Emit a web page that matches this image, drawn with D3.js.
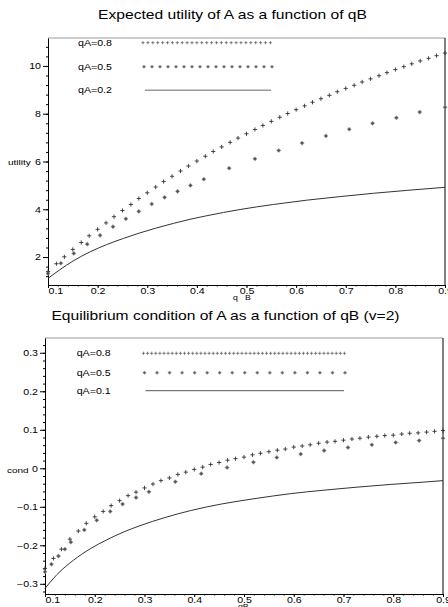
<!DOCTYPE html>
<meta charset="utf-8">
<style>
body { margin: 0; background: #fff; }
svg { display: block; font-family: "Liberation Sans", Arial, sans-serif; }
.axis .domain { stroke: #000; }
.axis line { stroke: #000; }
.axis text { font-size: 8.5px; fill: #000; font-family: "Liberation Sans", Arial, sans-serif; }
</style>
<svg width="448" height="607"></svg>
<script src="https://d3js.org/d3.v7.min.js"></script>
<script>

// ---- values ----
// upper chart: expected utility of A against qB
var qB_u08 = [0.100, 0.117, 0.133, 0.150, 0.167, 0.183, 0.200, 0.217, 0.233, 0.250,
              0.267, 0.283, 0.300, 0.317, 0.333, 0.350, 0.367, 0.383, 0.400, 0.417,
              0.433, 0.450, 0.467, 0.483, 0.500, 0.517, 0.533, 0.550, 0.567, 0.583,
              0.600, 0.617, 0.633, 0.650, 0.667, 0.683, 0.700, 0.717, 0.733, 0.750,
              0.767, 0.783, 0.800, 0.817, 0.833, 0.850, 0.867, 0.883, 0.900];
var utility08 = [1.39, 1.72, 2.01, 2.32, 2.61, 2.89, 3.16, 3.43, 3.69, 3.95,
                 4.20, 4.45, 4.69, 4.93, 5.16, 5.38, 5.60, 5.81, 6.02, 6.22,
                 6.42, 6.61, 6.80, 6.98, 7.16, 7.34, 7.51, 7.68, 7.85, 8.01,
                 8.17, 8.33, 8.48, 8.63, 8.77, 8.92, 9.06, 9.19, 9.33, 9.46,
                 9.59, 9.72, 9.85, 9.97, 10.09, 10.21, 10.32, 10.43, 10.54];

var qB_u05 = [0.100, 0.126, 0.152, 0.179, 0.205, 0.231, 0.257, 0.283, 0.309, 0.335,
              0.361, 0.387, 0.414, 0.465, 0.517, 0.565, 0.612, 0.660, 0.707, 0.754,
              0.802, 0.849, 0.900];
var utility05 = [1.31, 1.74, 2.15, 2.54, 2.91, 3.27, 3.60, 3.91, 4.22, 4.50,
                 4.75, 5.00, 5.26, 5.72, 6.11, 6.46, 6.77, 7.07, 7.35, 7.60,
                 7.83, 8.07, 8.27];

var qB_u02 = [0.100, 0.124, 0.151, 0.185, 0.218, 0.252, 0.285, 0.319, 0.353, 0.386,
              0.420, 0.487, 0.554, 0.621, 0.688, 0.756, 0.823, 0.900];
var utility02 = [1.11, 1.47, 1.84, 2.22, 2.52, 2.78, 3.01, 3.22, 3.41, 3.58,
                 3.73, 3.99, 4.20, 4.38, 4.53, 4.67, 4.79, 4.92];

// lower chart: equilibrium condition of A against qB (v=2)
var qB_c08 = [0.100, 0.117, 0.133, 0.150, 0.167, 0.183, 0.200, 0.217, 0.233, 0.250,
              0.267, 0.283, 0.300, 0.317, 0.333, 0.350, 0.367, 0.383, 0.400, 0.417,
              0.433, 0.450, 0.467, 0.483, 0.500, 0.517, 0.533, 0.550, 0.567, 0.583,
              0.600, 0.617, 0.633, 0.650, 0.667, 0.683, 0.700, 0.717, 0.733, 0.750,
              0.767, 0.783, 0.800, 0.817, 0.833, 0.850, 0.867, 0.883, 0.900];
var cond08 = [-0.260, -0.234, -0.210, -0.184, -0.163, -0.143, -0.126, -0.112, -0.097, -0.084,
              -0.071, -0.062, -0.051, -0.041, -0.032, -0.025, -0.016, -0.010, -0.003, 0.003,
              0.010, 0.015, 0.021, 0.025, 0.029, 0.035, 0.039, 0.043, 0.047, 0.050,
              0.055, 0.058, 0.061, 0.065, 0.068, 0.070, 0.073, 0.076, 0.078, 0.081,
              0.083, 0.085, 0.086, 0.089, 0.091, 0.092, 0.094, 0.096, 0.098];

var qB_c05 = [0.100, 0.113, 0.127, 0.140, 0.152, 0.179, 0.204, 0.231, 0.256, 0.283,
              0.309, 0.362, 0.414, 0.466, 0.519, 0.566, 0.614, 0.661, 0.709, 0.757,
              0.805, 0.852, 0.900];
var cond05 = [-0.269, -0.249, -0.228, -0.210, -0.192, -0.160, -0.135, -0.112, -0.093, -0.076,
              -0.061, -0.035, -0.014, 0.002, 0.016, 0.028, 0.037, 0.046, 0.054, 0.061,
              0.067, 0.072, 0.078];

var qB_c01 = [0.100, 0.124, 0.157, 0.191, 0.224, 0.257, 0.291, 0.341, 0.392, 0.458,
              0.526, 0.593, 0.659, 0.727, 0.794, 0.860, 0.900];
var cond01 = [-0.312, -0.276, -0.239, -0.209, -0.186, -0.166, -0.149, -0.128, -0.110, -0.092,
              -0.078, -0.066, -0.057, -0.049, -0.042, -0.036, -0.032];

// ticks
var qBTicks = [0.1, 0.2, 0.3, 0.4, 0.5, 0.6, 0.7, 0.8, 0.9];
var utilityTicks = [2, 4, 6, 8, 10];
var condTicks = [-0.3, -0.2, -0.1, 0, 0.1, 0.2, 0.3];

var legendUtility = ["qA=0.8", "qA=0.5", "qA=0.2"];
var legendCond = ["qA=0.8", "qA=0.5", "qA=0.1"];

var svg = d3.select("svg");
var SX = 1.25;   // the original text is drawn a bit wide

var plusPath = "M-2.1,0H2.1M0,-2.1V2.1";
var diamondPath = "M0,-2.1L2.1,0L0,2.1L-2.1,0Z";

function stretch(sel) {
  sel.each(function() {
    var t = d3.select(this),
        tx = +t.attr("x") || 0,
        ty = +t.attr("y") || 0;
    t.attr("x", null).attr("y", null)
      .attr("transform", "translate(" + tx + "," + ty + ") scale(" + SX + ",1)");
  });
}

function label(x, y, txt, size, anchor) {
  return svg.append("text")
      .attr("transform", "translate(" + x + "," + y + ") scale(" + SX + ",1)")
      .attr("font-size", size)
      .attr("text-anchor", anchor || "start")
      .attr("fill", "#000")
      .text(txt);
}

function panel(p) {
  var x = d3.scaleLinear().domain([0.1, 0.9]).range([p.left, p.right]);
  var y = d3.scaleLinear().domain(p.yDomain).range([p.bottom, p.top]);

  var g = svg.append("g");

  // frame
  g.append("line").attr("x1", p.left).attr("x2", p.right).attr("y1", p.top).attr("y2", p.top)
      .attr("stroke", "#999").attr("stroke-width", 1);
  g.append("line").attr("x1", p.right).attr("x2", p.right).attr("y1", p.top).attr("y2", p.bottom)
      .attr("stroke", "#000").attr("stroke-width", 1);

  // minor ticks
  g.append("g")
      .attr("class", "axis")
      .attr("transform", "translate(0," + p.bottom + ")")
      .call(d3.axisBottom(x).tickValues(d3.range(0.1, 0.901, 0.02)).tickSize(1.5).tickFormat(""))
      .select(".domain").remove();
  g.append("g")
      .attr("class", "axis")
      .attr("transform", "translate(" + p.left + ",0)")
      .call(d3.axisLeft(y).tickValues(p.yMinor).tickSize(2).tickFormat(""))
      .select(".domain").remove();

  // major x axis
  var xa = g.append("g")
      .attr("class", "axis")
      .attr("transform", "translate(0," + p.bottom + ")")
      .call(d3.axisBottom(x).tickValues(qBTicks).tickSize(3).tickSizeOuter(0).tickPadding(-0.5)
              .tickFormat(d3.format(".1f")));
  xa.selectAll("text").call(stretch);
  xa.select(".tick text").attr("text-anchor", "start");

  // major y axis
  var ya = g.append("g")
      .attr("class", "axis")
      .attr("transform", "translate(" + p.left + ",0)")
      .call(d3.axisLeft(y).tickValues(p.yTicks).tickSize(5).tickSizeOuter(0).tickPadding(2)
              .tickFormat(p.yFormat));
  ya.selectAll("text").call(stretch);

  // series
  var plot = g.append("g");

  plot.append("path")
      .datum(d3.zip(p.lineX, p.lineY))
      .attr("fill", "none")
      .attr("stroke", "#333")
      .attr("stroke-width", 1)
      .attr("d", d3.line()
          .x(function(d) { return x(d[0]); })
          .y(function(d) { return y(d[1]); })
          .curve(d3.curveMonotoneX));

  plot.selectAll(".dia")
    .data(d3.zip(p.diaX, p.diaY))
    .enter().append("path")
      .attr("class", "dia")
      .attr("transform", function(d) { return "translate(" + x(d[0]) + "," + y(d[1]) + ")"; })
      .attr("d", diamondPath)
      .attr("fill", "#555")
      .attr("stroke", "#aaa")
      .attr("stroke-width", 0.6);

  plot.selectAll(".plus")
    .data(d3.zip(p.plusX, p.plusY))
    .enter().append("path")
      .attr("class", "plus")
      .attr("transform", function(d) { return "translate(" + x(d[0]) + "," + y(d[1]) + ")"; })
      .attr("d", plusPath)
      .attr("stroke", "#333")
      .attr("stroke-width", 0.9);

  // legend
  var lg = p.legend;
  lg.names.forEach(function(name, i) {
    label(lg.textX, lg.rows[i] + 3, name, 8.5);
  });
  svg.selectAll(null)
    .data(d3.range(lg.x0, lg.x1 + 0.1, lg.plusStep))
    .enter().append("path")
      .attr("transform", function(d) { return "translate(" + d + "," + lg.rows[0] + ")"; })
      .attr("d", "M-1.6,0H1.6M0,-1.6V1.6")
      .attr("stroke", "#555")
      .attr("stroke-width", 0.7);
  svg.selectAll(null)
    .data(d3.range(lg.x0 + 1, lg.x1 + 0.1, (lg.x1 - lg.x0 - 1) / 16))
    .enter().append("path")
      .attr("transform", function(d) { return "translate(" + d + "," + lg.rows[1] + ")"; })
      .attr("d", "M0,-1.8L1.8,0L0,1.8L-1.8,0Z")
      .attr("fill", "#666")
      .attr("stroke", "#aaa")
      .attr("stroke-width", 0.5);
  svg.append("line")
      .attr("x1", lg.x0 + 2).attr("x2", lg.x1 - 1)
      .attr("y1", lg.rows[2]).attr("y2", lg.rows[2])
      .attr("stroke", lg.lineColor)
      .attr("stroke-width", lg.lineWidth);
}

// ---- upper chart ----
label(232.5, 18.5, "Expected utility of A as a function of qB", 12.5, "middle");
panel({
  left: 48, right: 445, top: 38, bottom: 285,
  yDomain: [0.83, 11.17],
  yTicks: utilityTicks,
  yMinor: d3.range(1.2, 11.1, 0.4),
  yFormat: d3.format("d"),
  plusX: qB_u08, plusY: utility08,
  diaX: qB_u05, diaY: utility05,
  lineX: qB_u02, lineY: utility02,
  legend: { names: legendUtility, textX: 78, rows: [42.7, 66.7, 90.3],
            x0: 143, x1: 272, plusStep: 4.9, lineColor: "#999", lineWidth: 1.5 }
});
label(8, 164.5, "utility", 8);
label(233, 300, "q", 7);
label(245, 300, "B", 7);

// ---- lower chart ----
label(225.5, 320, "Equilibrium condition of A as a function of qB (v=2)", 12.5, "middle");
panel({
  left: 45, right: 443, top: 338, bottom: 594,
  yDomain: [-0.3265, 0.3384],
  yTicks: condTicks,
  yMinor: d3.range(-0.32, 0.34, 0.02),
  yFormat: function(d) { return d === 0 ? "0" : d3.format(".1f")(d); },
  plusX: qB_c08, plusY: cond08,
  diaX: qB_c05, diaY: cond05,
  lineX: qB_c01, lineY: cond01,
  legend: { names: legendCond, textX: 76.7, rows: [353.3, 372.7, 390.7],
            x0: 143.5, x1: 345, plusStep: 4.1, lineColor: "#444", lineWidth: 0.9 }
});
label(7, 473, "cond", 8);
label(238, 609, "qB", 7);

</script>
